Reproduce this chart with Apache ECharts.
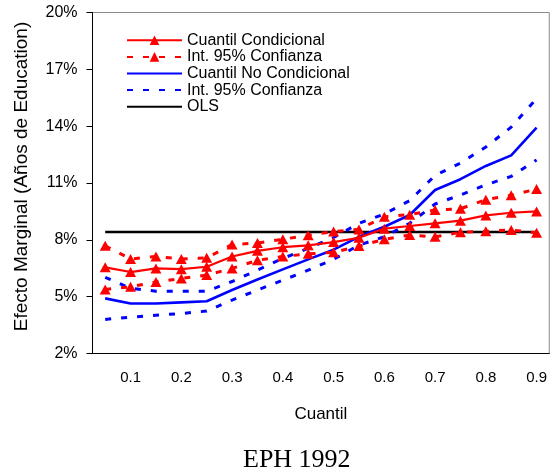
<!DOCTYPE html>
<html><head><meta charset="utf-8">
<script src="https://cdn.jsdelivr.net/npm/echarts@6/dist/echarts.min.js"></script>
<style>html,body{margin:0;padding:0;background:#fff}#c{width:550px;height:470px}</style>
</head><body><div id="c"></div>
<script>
const categories = ['0.05','0.1','0.15','0.2','0.25','0.3','0.35','0.4','0.45','0.5','0.55','0.6','0.65','0.7','0.75','0.8','0.85','0.9'];
const yTicks = [2, 5, 8, 11, 14, 17, 20];
const condQ  = [6.55, 6.30, 6.49, 6.45, 6.58, 7.12, 7.42, 7.61, 7.71, 7.88, 8.11, 8.59, 8.73, 8.87, 9.01, 9.29, 9.43, 9.50];
const condUp = [7.69, 6.99, 7.12, 6.99, 7.05, 7.75, 7.83, 8.03, 8.24, 8.44, 8.55, 9.22, 9.33, 9.57, 9.64, 10.12, 10.35, 10.68];
const condLo = [5.38, 5.52, 5.78, 5.96, 6.14, 6.49, 6.92, 7.12, 7.26, 7.34, 7.67, 8.03, 8.25, 8.16, 8.40, 8.45, 8.52, 8.37];
const uncQ   = [4.91, 4.64, 4.64, 4.70, 4.76, 5.35, 5.91, 6.44, 6.97, 7.48, 8.16, 8.69, 9.31, 10.63, 11.20, 11.90, 12.46, 13.92];
const uncUp  = [6.02, 5.44, 5.29, 5.29, 5.29, 5.80, 6.40, 7.02, 7.55, 8.12, 8.87, 9.36, 10.07, 11.40, 12.05, 12.90, 13.95, 15.45];
const uncLo  = [3.80, 3.92, 4.02, 4.11, 4.24, 4.82, 5.35, 5.87, 6.40, 6.97, 7.72, 8.16, 8.87, 9.89, 10.37, 10.90, 11.35, 12.22];
const ols    = [8.41, 8.41, 8.41, 8.41, 8.41, 8.41, 8.41, 8.41, 8.41, 8.41, 8.41, 8.41, 8.41, 8.41, 8.41, 8.41, 8.41, 8.41];

const names = ['Cuantil Condicional', 'Int. 95% Confianza', 'Cuantil No Condicional', 'Int. 95% Confianza ', 'OLS'];
const FONT = "'Liberation Sans', Arial, sans-serif";
const RED = '#ff0000', BLUE = '#0000ff';
const dash = [6, 10];

const chart = echarts.init(document.getElementById('c'), null, {renderer: 'canvas'});
function redLine(name, data, dashed, z) {
  return {
    name, type: 'line', data, z,
    symbol: 'triangle', symbolSize: [11, 10], showAllSymbol: true,
    itemStyle: {color: RED},
    lineStyle: {color: RED, width: dashed ? 3 : 2.2, type: dashed ? dash : 'solid', cap: 'butt'}
  };
}
function plainLine(name, data, color, dashed, width, z) {
  return {
    name, type: 'line', data, z, symbol: 'none',
    itemStyle: {color},
    lineStyle: {color, width, type: dashed ? dash : 'solid', cap: 'butt'}
  };
}
const noSym = {opacity: 0, color: 'transparent', borderWidth: 0};
chart.setOption({
  animation: false,
  backgroundColor: '#fff',
  title: {
    text: 'EPH 1992', left: 238, top: 442,
    textStyle: {fontFamily: "'Liberation Serif', 'Times New Roman', serif", fontSize: 26, fontWeight: 'normal', color: '#000'}
  },
  grid: {left: 92.5, right: 0.5, top: 12.5, bottom: 116.5, show: true, borderColor: '#8a8a8a', borderWidth: 1},
  legend: {
    orient: 'vertical', left: 121, top: 27, itemWidth: 55, itemHeight: 12, itemGap: 0,
    textStyle: {fontFamily: FONT, fontSize: 16, lineHeight: 16.6, color: '#000'},
    data: [
      {name: names[0]},
      {name: names[1]},
      {name: names[2], itemStyle: noSym},
      {name: names[3], itemStyle: noSym},
      {name: names[4], itemStyle: noSym}
    ]
  },
  xAxis: {
    type: 'category', data: categories, boundaryGap: true,
    name: 'Cuantil', nameLocation: 'middle', nameGap: 52,
    nameTextStyle: {fontFamily: FONT, fontSize: 17, color: '#000'},
    axisLine: {lineStyle: {color: '#000', width: 1}},
    axisTick: {interval: 0, length: 5, lineStyle: {color: '#000'}},
    axisLabel: {interval: (i) => i % 2 === 1, margin: 17, fontFamily: FONT, fontSize: 15, color: '#000'}
  },
  yAxis: {
    type: 'value', min: yTicks[0], max: yTicks[yTicks.length - 1], interval: 3,
    name: 'Efecto Marginal (Años de Education)', nameLocation: 'middle', nameGap: 61, nameRotate: 90,
    nameTextStyle: {fontFamily: FONT, fontSize: 19, color: '#000', padding: [0, 0, 0, 13]},
    axisLine: {show: true, lineStyle: {color: '#000', width: 1}},
    axisTick: {show: true, length: 6, lineStyle: {color: '#000'}},
    splitLine: {show: false},
    axisLabel: {formatter: '{value}%', margin: 15, fontFamily: FONT, fontSize: 16, color: '#000'}
  },
  series: [
    redLine(names[0], condQ, false, 10),
    redLine(names[1], condUp, true, 9),
    plainLine(names[2], uncQ, BLUE, false, 2.6, 5),
    plainLine(names[3], uncUp, BLUE, true, 3, 4),
    plainLine(names[4], ols, '#000', false, 2.6, 3),
    redLine(names[1], condLo, true, 9),
    plainLine(names[3], uncLo, BLUE, true, 3, 4)
  ]
});
</script></body></html>
